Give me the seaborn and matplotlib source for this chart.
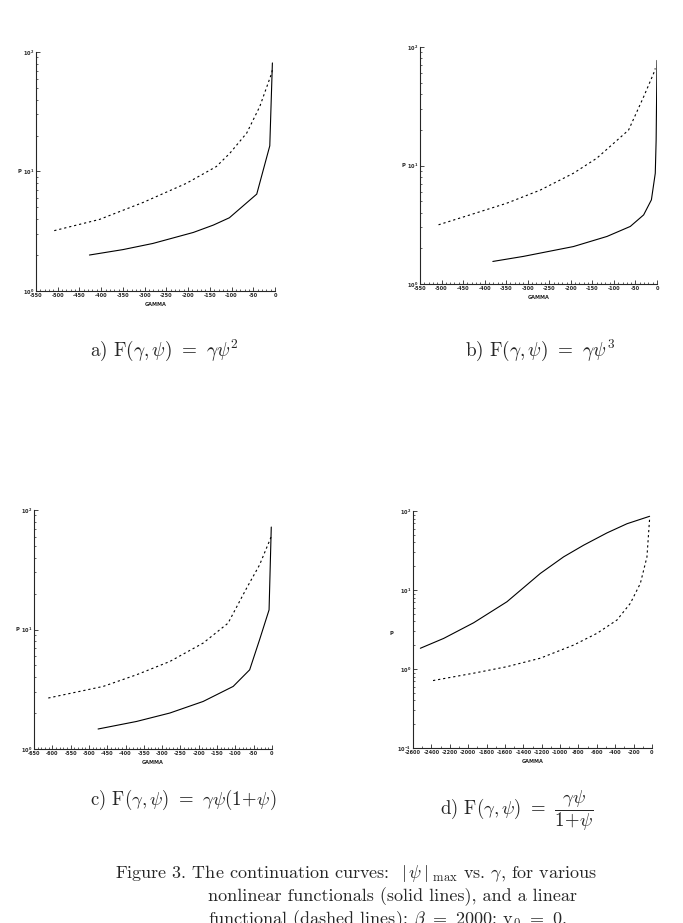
import matplotlib
matplotlib.use("Agg")
import matplotlib.pyplot as plt
import matplotlib.ticker as mticker
import seaborn as sns

# === Data (gamma, |psi|max) ===
a_solid_x = [-427, -350, -281, -188, -142, -105, -42, -12, -6]
a_solid_y = [2.0, 2.22, 2.5, 3.09, 3.56, 4.1, 6.47, 16.4, 81]
a_dash_x = [-508, -404, -304, -204, -135, -104, -65, -35, -8, -5]
a_dash_y = [3.2, 3.97, 5.5, 7.96, 11.0, 14.2, 21, 35, 66, 73.5]

b_solid_x = [-381, -310, -194, -116, -62, -31, -13, -4, -2, 0]
b_solid_y = [1.55, 1.71, 2.07, 2.52, 3.06, 3.83, 5.13, 8.6, 16.4, 77]
b_dash_x = [-507, -434, -349, -271, -194, -140, -66, -31, -8, -4]
b_dash_y = [3.16, 3.83, 4.8, 6.2, 8.6, 11.5, 19.9, 38, 59.7, 66]

c_solid_x = [-475, -370, -279, -188, -106, -61, -34, -8, -2]
c_solid_y = [1.47, 1.70, 2.0, 2.5, 3.34, 4.6, 8.2, 14.6, 72]
c_dash_x = [-611, -461, -370, -279, -188, -120, -70, -34, -2]
c_dash_y = [2.67, 3.34, 4.18, 5.4, 7.7, 11.3, 22, 34.7, 60]

d_solid_x = [-2520, -2266, -1940, -1578, -1215, -961, -744, -490, -272, -26]
d_solid_y = [1.83, 2.44, 3.85, 7.1, 16.2, 26.3, 36.9, 52.8, 69, 85.7]
d_dash_x = [-2382, -1940, -1578, -1215, -852, -598, -381, -236, -127, -55, -26]
d_dash_y = [0.714, 0.885, 1.07, 1.37, 2.01, 2.83, 4.17, 6.77, 12.1, 26.2, 80]

captions = [
    r"a) F$(\gamma,\psi)$ $=$ $\gamma\psi^2$",
    r"b) F$(\gamma,\psi)$ $=$ $\gamma\psi^3$",
    r"c) F$(\gamma,\psi)$ $=$ $\gamma\psi(1\!+\!\psi)$",
    r"d) F$(\gamma,\psi)$ $=$ $\dfrac{\gamma\psi}{1\!+\!\psi}$",
]
caption_lines = [
    r"Figure 3. The continuation curves:  $|\,\psi\,|_{\rm \ max}$ vs. $\gamma$, for various",
    "nonlinear functionals (solid lines), and a linear",
    r"functional (dashed lines); $\beta$ $=$ 2000; y$_0$ $=$ 0.",
]

# === Style ===
sns.set_style("ticks")
plt.rcParams["mathtext.fontset"] = "cm"
plt.rcParams["font.family"] = ["cmr10", "DejaVu Serif"]
plt.rcParams["axes.formatter.use_mathtext"] = True

W, H = 683, 923
fig = plt.figure(figsize=(W / 100, H / 100), dpi=100)


def px_axes(left, top, right, bottom):
    return fig.add_axes([left / W, 1 - bottom / H, (right - left) / W, (bottom - top) / H])


panels = [
    dict(box=(36, 52, 275, 291), sx=a_solid_x, sy=a_solid_y, dx=a_dash_x, dy=a_dash_y,
         xlim=(-550, 0), major=50, minor=10, ylim=(1, 100)),
    dict(box=(420, 47, 657, 284), sx=b_solid_x, sy=b_solid_y, dx=b_dash_x, dy=b_dash_y,
         xlim=(-550, 0), major=50, minor=10, ylim=(1, 100)),
    dict(box=(34, 510, 272, 749), sx=c_solid_x, sy=c_solid_y, dx=c_dash_x, dy=c_dash_y,
         xlim=(-650, 0), major=50, minor=10, ylim=(1, 100)),
    dict(box=(413, 511, 652, 748), sx=d_solid_x, sy=d_solid_y, dx=d_dash_x, dy=d_dash_y,
         xlim=(-2600, 0), major=200, minor=100, ylim=(0.1, 100)),
]

for i, p in enumerate(panels):
    ax = px_axes(*p["box"])
    sns.lineplot(x=p["sx"], y=p["sy"], ax=ax, color="black", lw=0.8, sort=False, estimator=None)
    sns.lineplot(x=p["dx"], y=p["dy"], ax=ax, color="black", lw=0.8, sort=False,
                 estimator=None, linestyle=(0, (2, 2.6)))
    ax.set_yscale("log")
    ax.set_xlim(*p["xlim"])
    ax.set_ylim(*p["ylim"])
    ax.xaxis.set_major_locator(mticker.MultipleLocator(p["major"]))
    ax.xaxis.set_minor_locator(mticker.MultipleLocator(p["minor"]))
    ax.xaxis.set_major_formatter(mticker.FuncFormatter(lambda v, pos: f"{int(round(v))}"))
    ax.tick_params(axis="both", which="major", direction="in", length=3, width=0.6,
                   labelsize=3.6, pad=1.5)
    ax.tick_params(axis="both", which="minor", direction="in", length=1.6, width=0.5)
    for lab in ax.get_xticklabels() + ax.get_yticklabels():
        lab.set_fontfamily("DejaVu Sans")
        lab.set_fontweight("bold")
    sns.despine(ax=ax)
    for s in ("left", "bottom"):
        ax.spines[s].set_linewidth(0.8)
    ax.set_xlabel("GAMMA", fontsize=3.6, fontfamily="DejaVu Sans", fontweight="bold", labelpad=3)
    ax.set_ylabel("")
    y_p = 10 if i < 3 else 10 ** 0.45
    ax.text(-0.07 if i < 3 else -0.09, y_p, "P", transform=ax.get_yaxis_transform(),
            fontsize=3.8, fontfamily="DejaVu Sans", fontweight="bold", ha="center", va="center")

# === Panel captions ===
fig.text(90 / W, 1 - 350 / H, captions[0], fontsize=13.8, ha="left", va="center")
fig.text(465 / W, 1 - 350 / H, captions[1], fontsize=13.8, ha="left", va="center")
fig.text(90 / W, 1 - 800 / H, captions[2], fontsize=13.5, ha="left", va="center")
fig.text(440 / W, 1 - 811 / H, captions[3], fontsize=13.5, ha="left", va="center")

# === Figure caption ===
fig.text(115 / W, 1 - 874 / H, caption_lines[0], fontsize=13, ha="left", va="center")
fig.text(208 / W, 1 - 897 / H, caption_lines[1], fontsize=13, ha="left", va="center")
fig.text(208 / W, 1 - 920 / H, caption_lines[2], fontsize=13, ha="left", va="center")

fig.savefig("out.png", dpi=100)
plt.close(fig)
